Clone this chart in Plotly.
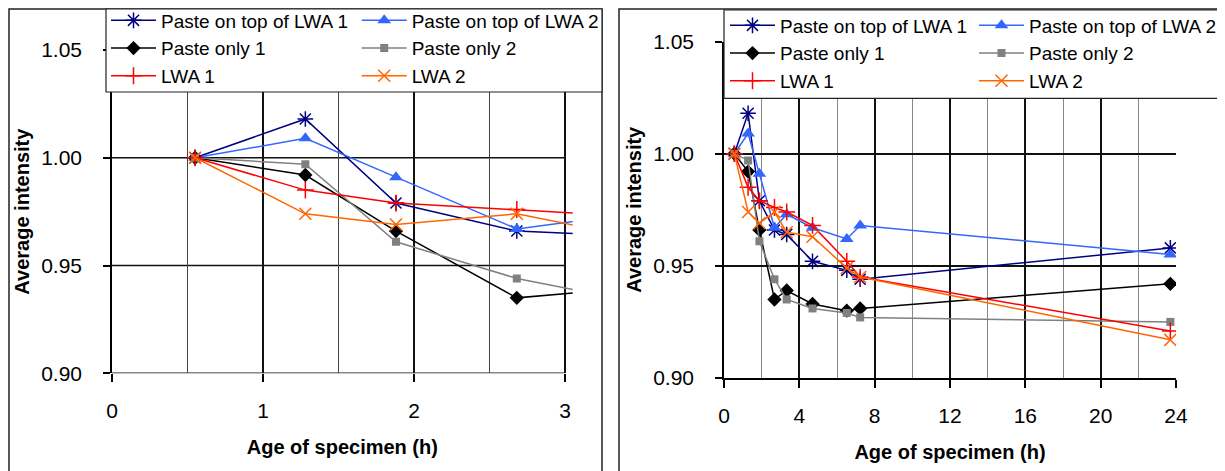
import plotly.graph_objects as go

# ---------------- data ----------------
age_h = [0.55, 1.28, 1.88, 2.68, 3.33, 4.70, 6.52, 7.23, 23.7]
paste_top_lwa_1 = [1.000, 1.018, 0.979, 0.966, 0.964, 0.952, 0.948, 0.944, 0.958]
paste_top_lwa_2 = [1.000, 1.009, 0.991, 0.967, 0.973, 0.967, 0.962, 0.968, 0.955]
paste_only_1 = [1.000, 0.992, 0.966, 0.935, 0.939, 0.933, 0.930, 0.931, 0.942]
paste_only_2 = [1.000, 0.997, 0.961, 0.944, 0.935, 0.931, 0.929, 0.927, 0.925]
lwa_1 = [1.000, 0.985, 0.979, 0.976, 0.974, 0.968, 0.952, 0.945, 0.921]
lwa_2 = [1.000, 0.974, 0.969, 0.974, 0.965, 0.963, 0.949, 0.945, 0.917]

series_names = ["Paste on top of LWA 1", "Paste on top of LWA 2",
                "Paste only 1", "Paste only 2", "LWA 1", "LWA 2"]
series_values = [paste_top_lwa_1, paste_top_lwa_2, paste_only_1,
                 paste_only_2, lwa_1, lwa_2]

y_ticks = [0.90, 0.95, 1.00, 1.05]
left_x_ticks = [0, 1, 2, 3]
right_x_ticks = [0, 4, 8, 12, 16, 20, 24]

# ---------------- styles ----------------
styles = [
    dict(color="#000080", symbol="asterisk-open", size=13, mlw=1.5),
    dict(color="#3366FF", symbol="triangle-up", size=12, mlw=0),
    dict(color="#000000", symbol="diamond", size=11, mlw=0),
    dict(color="#808080", symbol="square", size=8, mlw=0),
    dict(color="#FF0000", symbol="cross-thin-open", size=12, mlw=1.5),
    dict(color="#FF6600", symbol="x-thin-open", size=12, mlw=1.5),
]

FONT = "Liberation Sans, Arial, sans-serif"
OFF = 8  # page body margin offset
W, H = 1225 - OFF, 471 - OFF
ML, MR, MT, MB = 104, 49, 33, 93
PW, PH = W - ML - MR, H - MT - MB


def px_x(page_x):
    return (page_x - OFF - ML) / PW


def px_y(page_y):
    return (H - MB - (page_y - OFF)) / PH


def clamp(v):
    return min(1.0, max(0.0, v))


fig = go.Figure()

for i, (name, vals, st) in enumerate(zip(series_names, series_values, styles)):
    col = i % 2
    for side, (xa, ya, lg) in enumerate([("x", "y", "legend" if col == 0 else "legend2"),
                                          ("x2", "y2", "legend3" if col == 0 else "legend4")]):
        fig.add_trace(go.Scatter(
            x=age_h, y=vals, name=name, mode="lines+markers",
            xaxis=xa, yaxis=ya, legend=lg,
            legendgroup=f"g{side}_{i}",
            line=dict(color=st["color"], width=1.5),
            marker=dict(symbol=st["symbol"], size=st["size"], color=st["color"],
                        line=dict(color=st["color"], width=st["mlw"])),
            cliponaxis=True,
        ))

axis_common = dict(
    tickfont=dict(family=FONT, size=21, color="black"),
    title_font=dict(family=FONT, size=20, color="black", weight="bold"),
    automargin=False,
    zeroline=False,
)

fig.update_layout(
    width=W, height=H,
    margin=dict(l=ML, r=MR, t=MT, b=MB, autoexpand=False),
    paper_bgcolor="white", plot_bgcolor="white",
    font=dict(family=FONT, color="black"),
    xaxis=dict(
        domain=[clamp(px_x(111.7)), clamp(px_x(572.7))], range=[0, 3.05], tickvals=left_x_ticks,
        showgrid=True, gridcolor="#111111", gridwidth=1.5,
        minor=dict(dtick=0.5, tick0=0, showgrid=True, gridcolor="#444444", gridwidth=1),
        showline=False, ticks="outside", ticklen=8, tickcolor="black", tickwidth=1.5,
        ticklabelstandoff=10,
        title=dict(text="Age of specimen (h)", standoff=19),
        anchor="y", **axis_common),
    yaxis=dict(
        domain=[clamp(px_y(373.3)), clamp(px_y(50))], range=[0.90, 1.05], tickvals=y_ticks,
        tickformat=".2f", showgrid=False,
        showline=True, linecolor="black", linewidth=1.5,
        ticks="outside", ticklen=7, tickcolor="black", tickwidth=1.5,
        ticklabelstandoff=17,
        title=dict(text="Average intensity", standoff=6),
        anchor="x", **axis_common),
    xaxis2=dict(
        domain=[clamp(px_x(724)), clamp(px_x(1176))], range=[0, 24], tickvals=right_x_ticks,
        showgrid=True, gridcolor="#111111", gridwidth=1.5,
        minor=dict(dtick=2, tick0=0, showgrid=True, gridcolor="#888888", gridwidth=1),
        showline=True, linecolor="black", linewidth=1.5,
        ticks="outside", ticklen=8, tickcolor="black", tickwidth=1.5,
        ticklabelstandoff=10,
        title=dict(text="Age of specimen (h)", standoff=19),
        anchor="y2", **axis_common),
    yaxis2=dict(
        domain=[clamp(px_y(378.3)), clamp(px_y(41.5))], range=[0.90, 1.05], tickvals=y_ticks,
        tickformat=".2f", showgrid=True, gridcolor="#111111", gridwidth=1.5,
        showline=True, linecolor="black", linewidth=1.5,
        ticks="outside", ticklen=7, tickcolor="black", tickwidth=1.5,
        ticklabelstandoff=17,
        title=dict(text="Average intensity", standoff=6),
        anchor="x2", **axis_common),
    showlegend=True,
)

legend_common = dict(
    xanchor="left", yanchor="top", orientation="v",
    bgcolor="rgba(0,0,0,0)", borderwidth=0,
    font=dict(family=FONT, size=19, color="black"),
    itemwidth=45, tracegroupgap=5, traceorder="normal",
)
fig.update_layout(
    legend=dict(x=px_x(106), y=px_y(1.5), **legend_common),
    legend2=dict(x=px_x(356.7), y=px_y(1.5), **legend_common),
    legend3=dict(x=px_x(725), y=px_y(6.5), **legend_common),
    legend4=dict(x=px_x(974), y=px_y(6.5), **legend_common),
)

shapes = []
# left chart horizontal gridlines (stop at x = 3, like the x axis)
for yv in y_ticks:
    shapes.append(dict(type="line", xref="x", yref="y", x0=left_x_ticks[0], x1=left_x_ticks[-1],
                       y0=yv, y1=yv, line=dict(color="#111111", width=1.5), layer="below"))
# outer chart borders
shapes.append(dict(type="rect", xref="paper", yref="paper",
                   x0=px_x(9), x1=px_x(602), y0=px_y(490), y1=px_y(9),
                   line=dict(color="#222222", width=1.5), fillcolor="rgba(0,0,0,0)", layer="below"))
shapes.append(dict(type="rect", xref="paper", yref="paper",
                   x0=px_x(619), x1=px_x(1219), y0=px_y(490), y1=px_y(9),
                   line=dict(color="#222222", width=1.5), fillcolor="rgba(0,0,0,0)", layer="below"))
# legend boxes
shapes.append(dict(type="rect", xref="paper", yref="paper",
                   x0=px_x(106), x1=px_x(602), y0=px_y(92), y1=px_y(9),
                   line=dict(color="#222222", width=1.2), fillcolor="white", layer="above"))
shapes.append(dict(type="rect", xref="paper", yref="paper",
                   x0=px_x(724), x1=px_x(1219), y0=px_y(98.3), y1=px_y(10),
                   line=dict(color="#222222", width=1.2), fillcolor="white", layer="above"))
fig.update_layout(shapes=shapes)

fig.write_html("out.html")
